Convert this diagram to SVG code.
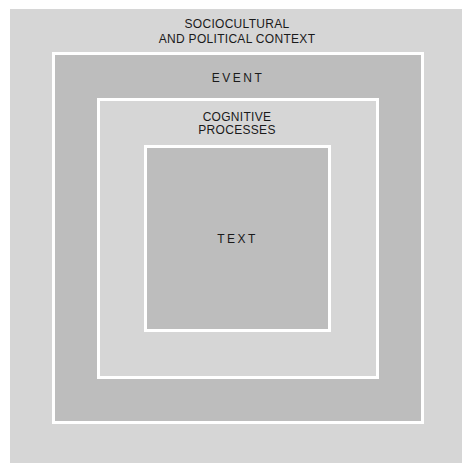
<svg xmlns="http://www.w3.org/2000/svg" width="462" height="463" viewBox="0 0 462 463">
<style>
.light{fill:#d6d6d6}
.dark{fill:#bdbdbd}
.box{stroke:#ffffff;stroke-width:3}
.lbl{font-family:"Liberation Sans",Arial,sans-serif;font-size:12px;fill:#1a1a1a;text-anchor:middle}
</style>
<rect width="462" height="463" fill="#ffffff"/>
<g id="context">
<rect class="light" x="10" y="9" width="452" height="454"/>
<text class="lbl" x="237" y="28" letter-spacing="0.3">SOCIOCULTURAL</text>
<text class="lbl" x="237" y="43" letter-spacing="0.3">AND POLITICAL CONTEXT</text>
</g>
<g id="event">
<rect class="dark box" x="53.5" y="53.5" width="369" height="369"/>
<text class="lbl" x="238" y="82" letter-spacing="2.5">EVENT</text>
</g>
<g id="cognitive">
<rect class="light box" x="98.5" y="99.5" width="279" height="278"/>
<text class="lbl" x="237" y="121" letter-spacing="0.3">COGNITIVE</text>
<text class="lbl" x="237" y="134" letter-spacing="0.3">PROCESSES</text>
</g>
<g id="text">
<rect class="dark box" x="145.5" y="146.5" width="184" height="184"/>
<text class="lbl" x="237.5" y="243" letter-spacing="2.5">TEXT</text>
</g>
<g id="connectors"></g>
</svg>
